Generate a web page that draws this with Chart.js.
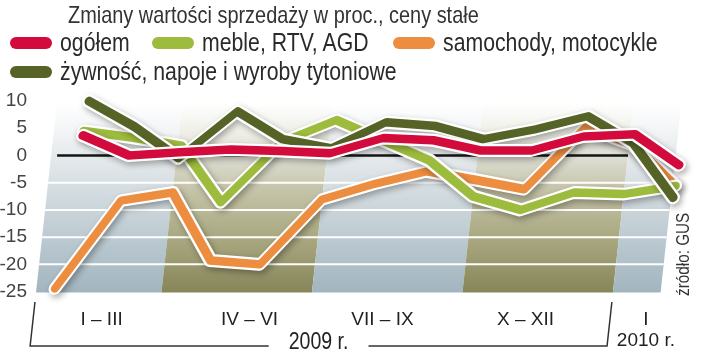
<!DOCTYPE html>
<html>
<head>
<meta charset="utf-8">
<script src="https://cdn.jsdelivr.net/npm/chart.js@4.4.1/dist/chart.umd.min.js"></script>
<style>
html,body{margin:0;padding:0;background:#fff;}
#wrap{position:relative;width:720px;height:355px;overflow:hidden;font-family:"Liberation Sans",Arial,sans-serif;color:#2a2a2a;}
#c{position:absolute;left:0;top:0;}
#title{position:absolute;left:68px;top:3px;font-size:24px;line-height:24px;white-space:nowrap;color:#333;transform:scaleX(0.83);transform-origin:left center;}
.lm{position:absolute;width:42px;height:12px;border-radius:6px;}
.lt{position:absolute;font-size:25px;line-height:25px;white-space:nowrap;transform:scaleX(0.85);transform-origin:left center;}
</style>
</head>
<body>
<div id="wrap">
<canvas id="c" width="720" height="355"></canvas>
<div id="title"></div>
</div>
<script>
// ---------- DATA ----------
const chartTitle = 'Zmiany wartości sprzedaży w proc., ceny stałe';
const months = ['I','II','III','IV','V','VI','VII','VIII','IX','X','XI','XII','I 2010'];
const ogolem    = [3.7, 0.0, 0.6, 1.1, 0.8, 0.4, 3.2, 2.8, 0.9, 0.9, 3.5, 3.9, -1.8];
const meble     = [4.5, 3.3, 1.8, -8.6, 2.5, 6.5, 2.8, -0.9, -7.5, -10.0, -6.8, -7.1, -5.6];
const samochody = [-24.4, -8.3, -6.8, -19.3, -20.0, -8.1, -5.2, -2.9, -4.5, -6.2, 5.2, 2.0, -5.6];
const zywnosc   = [10.0, 5.3, -0.5, 8.1, 3.0, 1.3, 6.1, 5.4, 3.0, 4.8, 7.2, 2.3, -7.8];
const seriesNames = ['ogółem', 'meble, RTV, AGD', 'samochody, motocykle', 'żywność, napoje i wyroby tytoniowe'];
const seriesValues = [ogolem, meble, samochody, zywnosc];
const yTicks = [10, 5, 0, -5, -10, -15, -20, -25];
const periodLabels = ['I – III', 'IV – VI', 'VII – IX', 'X – XII', ['I', '2010 r.']];
const yearLabel = '2009 r.';
const sourceLabel = 'źródło: GUS';

// ---------- STYLE / LAYOUT ----------
const seriesColors = ['#d20b3c', '#9dbb3d', '#ec8d3f', '#566326'];
const drawOrder = [0, 2, 3, 1];
const periodPos = [1.45, 4.4, 7.05, 9.9, 12.3];
const legendPos = [[10, 37], [152, 37], [393, 37], [10, 66]];
const FAM = '"Liberation Sans",Arial,sans-serif';
const lineSkew = 0.18, bandSkew = 0.11, bandShift = 43;
const bandEdges = [1, 3.5, 6.5, 9.5, 12.5, 13.45];
const bandTone = ['blue', 'olive', 'blue', 'olive', 'blue'];
const tones = {
  blue: [[0,'#ffffff'],[0.15,'#f2f4f5'],[0.45,'#d5dde1'],[0.71,'#bccad1'],[1,'#a2b5bf']],
  olive: [[0,'#ffffff'],[0.15,'#efefe8'],[0.3,'#dcdcd0'],[0.45,'#c6c5aa'],[0.71,'#a9a881'],[1,'#878659']]
};

document.getElementById('title').textContent = chartTitle;
const wrap = document.getElementById('wrap');
seriesNames.forEach((n, i) => {
  const m = document.createElement('div');
  m.className = 'lm';
  m.style.left = legendPos[i][0] + 'px';
  m.style.top = legendPos[i][1] + 'px';
  m.style.background = seriesColors[i];
  wrap.appendChild(m);
  const t = document.createElement('div');
  t.className = 'lt';
  t.style.left = (legendPos[i][0] + 50) + 'px';
  t.style.top = (legendPos[i][1] - 7) + 'px';
  t.textContent = n;
  wrap.appendChild(t);
});

const deco = {
  id: 'deco',
  beforeDatasetsDraw(chart) {
    const {ctx, chartArea: a, scales: {x, y}} = chart;
    const yb = a.bottom + 1, yt = a.top + 2;
    const xb = (m, py) => x.getPixelForValue(m) - bandShift + bandSkew * (yb - py);
    ctx.save();
    bandTone.forEach((tone, i) => {
      const g = ctx.createLinearGradient(0, yt, 0, yb);
      tones[tone].forEach(([o, c]) => g.addColorStop(o, c));
      ctx.fillStyle = g;
      ctx.beginPath();
      ctx.moveTo(xb(bandEdges[i], yb), yb);
      ctx.lineTo(xb(bandEdges[i + 1], yb), yb);
      ctx.lineTo(xb(bandEdges[i + 1], yt), yt);
      ctx.lineTo(xb(bandEdges[i], yt), yt);
      ctx.closePath();
      ctx.fill();
    });
    ctx.strokeStyle = '#ffffff';
    ctx.lineWidth = 2;
    yTicks.filter(v => v < 0 && v > -25).forEach(v => {
      const py = y.getPixelForValue(v);
      ctx.beginPath();
      ctx.moveTo(xb(bandEdges[0], py), py);
      ctx.lineTo(xb(bandEdges[bandEdges.length - 1], py), py);
      ctx.stroke();
    });
    const p0 = y.getPixelForValue(0);
    ctx.strokeStyle = '#151515';
    ctx.lineWidth = 2.5;
    ctx.beginPath();
    ctx.moveTo(xb(bandEdges[0], p0) + 6, p0);
    ctx.lineTo(xb(bandEdges[4], p0), p0);
    ctx.stroke();
    ctx.restore();
    ctx.save();
    ctx.transform(1, 0, -lineSkew, 1, lineSkew * p0, 0);
  },
  afterDatasetsDraw(chart) {
    chart.ctx.restore();
  },
  beforeDatasetDraw(chart, args) {
    const ctx = chart.ctx, pts = args.meta.data;
    ctx.save();
    ctx.beginPath();
    pts.forEach((p, i) => i ? ctx.lineTo(p.x, p.y) : ctx.moveTo(p.x, p.y));
    ctx.lineWidth = 13;
    ctx.lineJoin = 'round';
    ctx.lineCap = 'round';
    ctx.strokeStyle = '#ffffff';
    ctx.shadowColor = 'rgba(0,0,0,0.32)';
    ctx.shadowBlur = 6;
    ctx.shadowOffsetX = 2;
    ctx.shadowOffsetY = 3;
    ctx.stroke();
    ctx.restore();
  },
  afterDraw(chart) {
    const {ctx, chartArea: a, scales: {x}} = chart;
    const yb = a.bottom + 1;
    const xb = (m, py) => x.getPixelForValue(m) - bandShift + bandSkew * (yb - py);
    const ly = 346, ty = 302, sq = 0.85;
    ctx.save();
    ctx.font = '23px ' + FAM;
    const tw = ctx.measureText(yearLabel).width * sq;
    const x1 = xb(bandEdges[0], ly), x2 = xb(bandEdges[4], ly);
    const mid = (x1 + x2) / 2;
    ctx.strokeStyle = '#333';
    ctx.lineWidth = 1.5;
    ctx.beginPath();
    ctx.moveTo(xb(bandEdges[0], ty), ty);
    ctx.lineTo(x1, ly);
    ctx.lineTo(mid - tw / 2 - 20, ly);
    ctx.moveTo(mid + tw / 2 + 20, ly);
    ctx.lineTo(x2, ly);
    ctx.lineTo(xb(bandEdges[4], ty), ty);
    ctx.stroke();
    ctx.fillStyle = '#222';
    ctx.textAlign = 'center';
    ctx.textBaseline = 'middle';
    ctx.save();
    ctx.translate(mid, 343);
    ctx.scale(sq, 1);
    ctx.fillText(yearLabel, 0, 0);
    ctx.restore();
    ctx.font = '18px ' + FAM;
    ctx.fillStyle = '#333';
    ctx.translate(689, 296);
    ctx.rotate(-Math.PI / 2);
    ctx.scale(sq, 1);
    ctx.textAlign = 'left';
    ctx.textBaseline = 'alphabetic';
    ctx.fillText(sourceLabel, 0, 0);
    ctx.restore();
  }
};

new Chart(document.getElementById('c'), {
  type: 'line',
  data: {
    labels: months,
    datasets: seriesValues.map((vals, i) => ({
      label: seriesNames[i],
      data: vals.map((v, j) => ({x: j + 1, y: v})),
      borderColor: seriesColors[i],
      backgroundColor: seriesColors[i],
      borderWidth: 8.5,
      pointRadius: 0,
      borderCapStyle: 'round',
      borderJoinStyle: 'round',
      tension: 0,
      clip: false,
      order: drawOrder[i]
    }))
  },
  options: {
    responsive: false,
    animation: false,
    devicePixelRatio: 1,
    layout: {padding: {left: 0, right: 39, top: 101, bottom: 0}},
    plugins: {legend: {display: false}, tooltip: {enabled: false}, title: {display: false}},
    scales: {
      x: {
        type: 'linear', min: 1, max: 13,
        grid: {display: false, drawTicks: false},
        border: {display: false},
        afterBuildTicks: s => { s.ticks = periodPos.map(v => ({value: v})); },
        afterFit: s => { s.height = 59; },
        ticks: {
          autoSkip: false, maxRotation: 0, minRotation: 0, padding: 18,
          color: '#222', font: {family: FAM, size: 19, lineHeight: 1.1},
          callback: (v, i) => periodLabels[i]
        }
      },
      y: {
        min: -25, max: 10,
        grid: {display: false, drawTicks: false},
        border: {display: false},
        afterBuildTicks: s => { s.ticks = yTicks.map(v => ({value: v})); },
        afterFit: s => { s.width = 79; },
        ticks: {padding: 52, color: '#444', font: {family: FAM, size: 19}}
      }
    }
  },
  plugins: [deco]
});
</script>
</body>
</html>
